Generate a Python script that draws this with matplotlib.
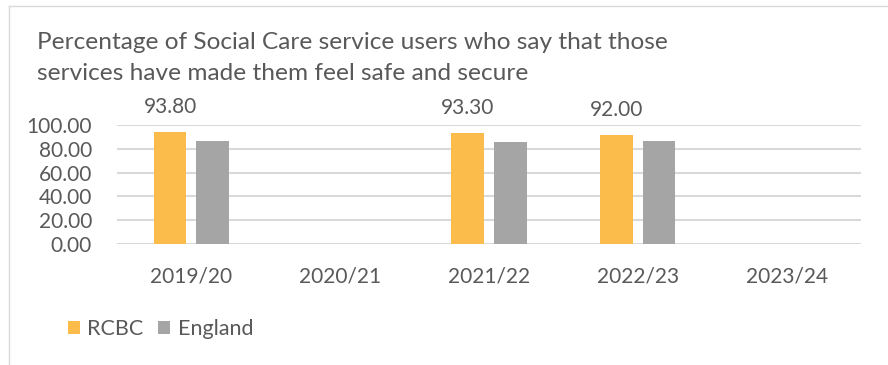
import matplotlib
matplotlib.use("Agg")
import matplotlib.pyplot as plt
from matplotlib.lines import Line2D
import numpy as np

plt.rcParams['font.family'] = ['Lato', 'DejaVu Sans']

years = ['2019/20', '2020/21', '2021/22', '2022/23', '2023/24']
rcbc = [93.8, np.nan, 93.3, 92.0, np.nan]
england = [86.8, np.nan, 85.5, 86.9, np.nan]
yticks = [0, 20, 40, 60, 80, 100]

title_lines = ['Percentage of Social Care service users who say that those',
               'services have made them feel safe and secure']

txt = '#595959'
orange = '#FBBC4B'
grey = '#A5A5A5'
fs = 15

W, H = 888, 365
fig = plt.figure(figsize=(W / 100, H / 100), dpi=100)

# plot area in pixel units
l, r, t, b = 117, 861, 125, 244
ax = fig.add_axes([l / W, 1 - b / H, (r - l) / W, (b - t) / H])

x = np.arange(len(years))
w = 0.22
b1 = ax.bar(x - 0.143, rcbc, w, color=orange, label='RCBC', zorder=3)
b2 = ax.bar(x + 0.143, england, w, color=grey, label='England', zorder=3)

for xi, v in zip(x, rcbc):
    if not np.isnan(v):
        ax.annotate(f'{v:.2f}', (xi - 0.143, v), xytext=(0, 19),
                    textcoords='offset pixels', ha='center', va='baseline',
                    fontsize=fs, color=txt)

ax.set_xlim(-0.5, len(years) - 0.5)
ax.set_ylim(0, 100)
ax.set_yticks(yticks)
ax.set_yticklabels([f'{v:.2f}' for v in yticks])
ax.set_xticks(x)
ax.set_xticklabels(years)
ax.tick_params(axis='both', length=0, labelsize=fs, labelcolor=txt)
ax.xaxis.set_tick_params(pad=16)
ax.yaxis.set_tick_params(pad=18)
ax.grid(axis='y', color='#D9D9D9', lw=1.5, zorder=0)
for s in ax.spines.values():
    s.set_visible(False)

for i, line in enumerate(title_lines):
    fig.text(37 / W, 1 - (49 + 31 * i) / H, line, ha='left', va='baseline',
             fontsize=17.6, color=txt)

fig.legend(handles=[b1, b2], loc='center left',
           bbox_to_anchor=(57 / W, 1 - 329 / H), frameon=False, borderpad=0,
           ncol=2, fontsize=15.5, labelcolor=txt, handlelength=0.55,
           handleheight=0.55, handletextpad=0.35, columnspacing=0.7)

# chart frame edges
fig.add_artist(Line2D([9 / W, 1], [1 - 6 / H, 1 - 6 / H], color='#D9D9D9', lw=1))
fig.add_artist(Line2D([9 / W, 9 / W], [0, 1 - 6 / H], color='#D9D9D9', lw=1))

fig.savefig('out.png', dpi=100)
